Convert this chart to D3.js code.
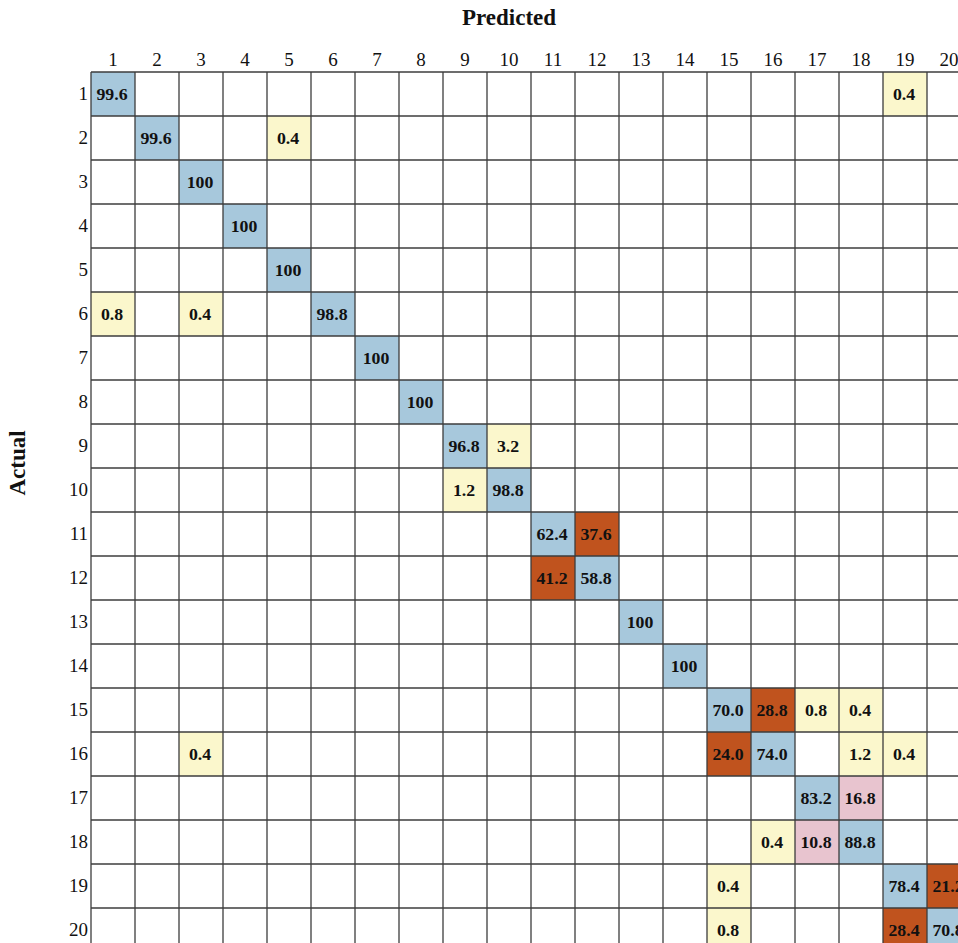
<!DOCTYPE html>
<html>
<head>
<meta charset="utf-8">
<script src="https://cdn.jsdelivr.net/npm/d3@7/dist/d3.min.js"></script>
<style>
  html, body { margin: 0; padding: 0; background: #ffffff; overflow: hidden; }
  svg { display: block; }
</style>
</head>
<body>
<svg id="chart" width="958" height="943"></svg>
<script>
// ---- Data ----
const classes = d3.range(1, 21);           // 1..20
const tickLabels = classes.map(String);
// non-zero cells: [actual, predicted, percent]
const actualIdx    = [1,1, 2,2, 3, 4, 5, 6,6,6, 7, 8, 9,9, 10,10, 11,11, 12,12, 13, 14, 15,15,15,15, 16,16,16,16,16, 17,17, 18,18,18, 19,19,19, 20,20,20];
const predictedIdx = [1,19, 2,5, 3, 4, 5, 1,3,6, 7, 8, 9,10, 9,10, 11,12, 11,12, 13, 14, 15,16,17,18, 3,15,16,18,19, 17,18, 16,17,18, 15,19,20, 15,19,20];
const percents     = [99.6,0.4, 99.6,0.4, 100, 100, 100, 0.8,0.4,98.8, 100, 100, 96.8,3.2, 1.2,98.8, 62.4,37.6, 41.2,58.8, 100, 100, 70.0,28.8,0.8,0.4, 0.4,24.0,74.0,1.2,0.4, 83.2,16.8, 0.4,10.8,88.8, 0.4,78.4,21.2, 0.8,28.4,70.8];

const cells = percents.map((v, i) => ({ actual: actualIdx[i], predicted: predictedIdx[i], value: v }));

// ---- Layout ----
const svg = d3.select("#chart");
const cellSize = 44;
const mLeft = 91, mTop = 72;

const x = d3.scaleBand().domain(classes).range([mLeft, mLeft + cellSize * classes.length]).padding(0);
const y = d3.scaleBand().domain(classes).range([mTop, mTop + cellSize * classes.length]).padding(0);

const offDiagColor = d3.scaleThreshold()
  .domain([10, 20])
  .range(["#fbf7cc", "#e8c4cf", "#c0531e"]);
const diagColor = "#a7c8dc";

const serif = "'Liberation Serif', 'Times New Roman', Times, serif";

// coloured cells
svg.append("g").selectAll("rect")
  .data(cells)
  .join("rect")
  .attr("x", d => x(d.predicted))
  .attr("y", d => y(d.actual))
  .attr("width", x.bandwidth())
  .attr("height", y.bandwidth())
  .attr("fill", d => d.actual === d.predicted ? diagColor : offDiagColor(d.value));

// grid lines
const edges = d3.range(0, classes.length + 1);
const grid = svg.append("g").attr("stroke", "#3c3c3c").attr("stroke-width", 1.3);
grid.selectAll("line.v")
  .data(edges)
  .join("line")
  .attr("class", "v")
  .attr("x1", d => mLeft + d * x.bandwidth())
  .attr("x2", d => mLeft + d * x.bandwidth())
  .attr("y1", mTop).attr("y2", mTop + cellSize * classes.length);
grid.selectAll("line.h")
  .data(edges)
  .join("line")
  .attr("class", "h")
  .attr("y1", d => mTop + d * y.bandwidth())
  .attr("y2", d => mTop + d * y.bandwidth())
  .attr("x1", mLeft).attr("x2", mLeft + cellSize * classes.length);

// cell values
const fmt = v => v === 100 ? "100" : v.toFixed(1);
svg.append("g").selectAll("text")
  .data(cells)
  .join("text")
  .attr("transform", d => `translate(${x(d.predicted) + x.bandwidth() / 2 - 1},${y(d.actual) + y.bandwidth() / 2 + 6}) scale(1.08,1)`)
  .attr("text-anchor", "middle")
  .attr("font-family", serif)
  .attr("font-weight", "bold")
  .attr("font-size", 16.5)
  .attr("fill", "#111")
  .text(d => fmt(d.value));

// top axis (predicted)
const xAxis = d3.axisTop(x).tickSize(0).tickPadding(6).tickFormat((d, i) => tickLabels[i]);
const gx = svg.append("g").attr("transform", `translate(0,${mTop})`).call(xAxis);
gx.select(".domain").remove();
gx.selectAll("text")
  .attr("font-family", serif)
  .attr("font-size", 19)
  .attr("fill", "#111");

// left axis (actual)
const yAxis = d3.axisLeft(y).tickSize(0).tickPadding(3).tickFormat((d, i) => tickLabels[i]);
const gy = svg.append("g").attr("transform", `translate(${mLeft},0)`).call(yAxis);
gy.select(".domain").remove();
gy.selectAll("text")
  .attr("font-family", serif)
  .attr("font-size", 19)
  .attr("fill", "#111");

// titles
svg.append("text")
  .attr("x", 509).attr("y", 25)
  .attr("text-anchor", "middle")
  .attr("font-family", serif)
  .attr("font-weight", "bold")
  .attr("font-size", 23)
  .attr("fill", "#111")
  .text("Predicted");

svg.append("text")
  .attr("transform", "translate(25,463) rotate(-90)")
  .attr("text-anchor", "middle")
  .attr("font-family", serif)
  .attr("font-weight", "bold")
  .attr("font-size", 23)
  .attr("fill", "#111")
  .text("Actual");
</script>
</body>
</html>
